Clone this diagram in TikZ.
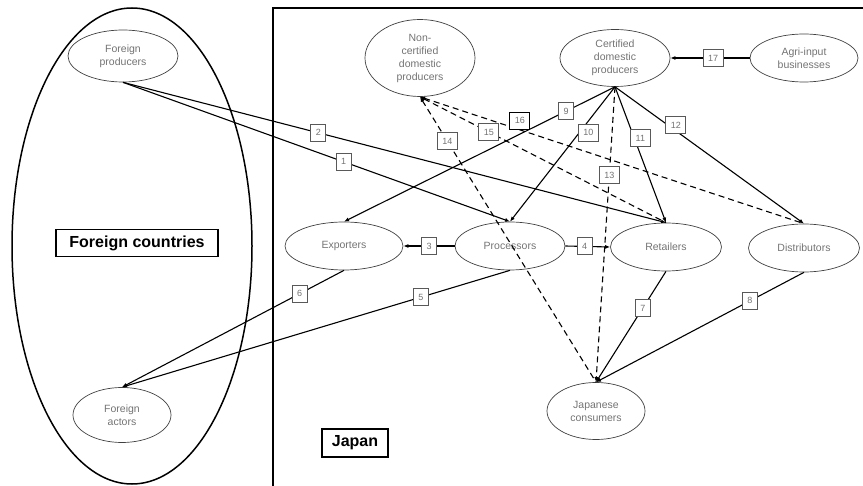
\documentclass[tikz,border=0pt]{standalone}
\usepackage{fontspec}
\setmainfont{Liberation Sans}
\usepackage{xcolor}
\usepackage{tikz}
\usetikzlibrary{shapes.geometric}
\usetikzlibrary{arrows.meta}

\tikzset{
	actor/.style={ellipse, draw=black!75, line width=0.7pt, inner sep=0pt, align=center,
		text=black!55, font=\fontsize{10.5}{13}\selectfont},
	num/.style={draw=black!65, solid, line width=1pt, fill=white, text=black!55,
		font=\fontsize{9}{10}\selectfont, inner xsep=5pt, inner ysep=0pt, minimum height=17pt},
	link/.style={line width=1.1pt, -{Latex[length=5pt,width=4pt]}},
	dashlink/.style={link, dash pattern=on 6pt off 4pt},
	regiontag/.style={draw, line width=1.6pt, fill=white, inner sep=0pt,
		font=\fontsize{16}{18}\selectfont\bfseries}
}

\begin{document}
\begin{tikzpicture}[x=1pt, y=-1pt]
	
	\useasboundingbox (0,0) rectangle (863,486);
	\clip (0,0) rectangle (863,486);
	
	% regions
	\draw [line width=1.5pt] (132,246) ellipse [x radius=120pt, y radius=238pt];
	\draw [line width=1.5pt] (273,8) rectangle (880,500);
	\node [regiontag, minimum width=162pt, minimum height=27pt] (fctag) at (137,243) {Foreign countries};
	\node [regiontag, minimum width=66pt, minimum height=28pt] (jptag) at (355,443) {Japan};
	
	% actors
	\node [actor, minimum width=110pt, minimum height=52pt] (fprod) at (123,56) {Foreign\\producers};
	\node [actor, minimum width=98pt, minimum height=55pt] (factor) at (122,415) {Foreign\\actors};
	\node [actor, minimum width=110pt, minimum height=77pt] (noncert) at (420,58) {Non-\\certified\\domestic\\producers};
	\node [actor, minimum width=110pt, minimum height=57pt] (cert) at (615,58) {Certified\\domestic\\producers};
	\node [actor, minimum width=108pt, minimum height=48pt] (agri) at (804,58) {Agri-input\\businesses};
	\node [actor, minimum width=118pt, minimum height=48pt] (export) at (344,246) {Exporters};
	\node [actor, minimum width=110pt, minimum height=48pt] (proc) at (510,246) {Processors};
	\node [actor, minimum width=111pt, minimum height=48pt] (retail) at (666,247) {Retailers};
	\node [actor, minimum width=111pt, minimum height=48pt] (distr) at (804,248) {Distributors};
	\node [actor, minimum width=98pt, minimum height=57pt] (jpcons) at (596,411) {Japanese\\consumers};
	
	% flows
	\draw [link] (fprod.south) -- node [num, pos=0.57] {1} (proc.north);
	\draw [link] (fprod.south) -- node [num, pos=0.36] {2} (retail.north);
	\draw [link] (proc.west) -- node [num] {3} (export.east);
	\draw [link] (proc.east) -- node [num, pos=0.43] {4} (retail.west);
	\draw [link] (proc.south) -- node [num, pos=0.23] {5} (factor.north);
	\draw [link] (export.south) -- node [num, pos=0.2] {6} (factor.north);
	\draw [link] (retail.south) -- node [num, pos=0.33] {7} (jpcons.north);
	\draw [link] (distr.south) -- node [num, pos=0.26] {8} (jpcons.north);
	\draw [link] (cert.south) -- node [num, pos=0.18] {9} (export.north);
	\draw [link] (cert.south) -- node [num, pos=0.34, xshift=9pt] {10} (proc.north);
	\draw [link] (cert.south) -- node [num, pos=0.38, xshift=6pt] {11} (retail.north);
	\draw [link] (cert.south) -- node [num, pos=0.28, xshift=8pt] {12} (distr.north);
	\draw [dashlink] (cert.south) -- node [num, pos=0.3] {13} (jpcons.north);
	\draw [dashlink, {Latex[length=5pt,width=4pt]}-] (noncert.south) -- node [num, pos=0.155] {14} (jpcons.north);
	\draw [dashlink, {Latex[length=5pt,width=4pt]}-] (noncert.south) -- node [num, pos=0.28] {15} (retail.north);
	\draw [dashlink, {Latex[length=5pt,width=4pt]}-] (noncert.south) -- node [num, draw=black, pos=0.26, anchor=south] {16} (distr.north);
	\draw [link] (agri.west) -- node [num, pos=0.46] {17} (cert.east);
	
\end{tikzpicture}
\end{document}
